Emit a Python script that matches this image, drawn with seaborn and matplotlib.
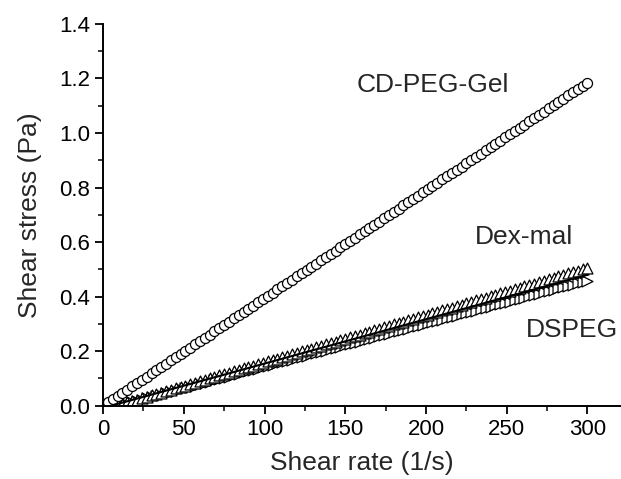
import matplotlib
matplotlib.use('Agg')
import matplotlib.pyplot as plt
from matplotlib.ticker import MultipleLocator, FormatStrFormatter
import pandas as pd
import seaborn as sns

# shear rate grid (1/s)
shear_rate = [
    3, 6, 9, 12, 15, 18, 21, 24, 27, 30,
    33, 36, 39, 42, 45, 48, 51, 54, 57, 60,
    63, 66, 69, 72, 75, 78, 81, 84, 87, 90,
    93, 96, 99, 102, 105, 108, 111, 114, 117, 120,
    123, 126, 129, 132, 135, 138, 141, 144, 147, 150,
    153, 156, 159, 162, 165, 168, 171, 174, 177, 180,
    183, 186, 189, 192, 195, 198, 201, 204, 207, 210,
    213, 216, 219, 222, 225, 228, 231, 234, 237, 240,
    243, 246, 249, 252, 255, 258, 261, 264, 267, 270,
    273, 276, 279, 282, 285, 288, 291, 294, 297, 300,
]

# shear stress (Pa)
cd_peg_gel = [
    0.012, 0.024, 0.036, 0.047, 0.059, 0.071, 0.083, 0.095, 0.107, 0.119,
    0.130, 0.142, 0.154, 0.166, 0.178, 0.190, 0.201, 0.213, 0.225, 0.237,
    0.249, 0.261, 0.273, 0.284, 0.296, 0.308, 0.320, 0.332, 0.344, 0.356,
    0.367, 0.379, 0.391, 0.403, 0.415, 0.427, 0.438, 0.450, 0.462, 0.474,
    0.486, 0.498, 0.510, 0.521, 0.533, 0.545, 0.557, 0.569, 0.581, 0.593,
    0.604, 0.616, 0.628, 0.640, 0.652, 0.664, 0.675, 0.687, 0.699, 0.711,
    0.723, 0.735, 0.747, 0.758, 0.770, 0.782, 0.794, 0.806, 0.818, 0.830,
    0.841, 0.853, 0.865, 0.877, 0.889, 0.901, 0.912, 0.924, 0.936, 0.948,
    0.960, 0.972, 0.984, 0.995, 1.007, 1.019, 1.031, 1.043, 1.055, 1.067,
    1.078, 1.090, 1.102, 1.114, 1.126, 1.138, 1.149, 1.161, 1.173, 1.185,
]

dex_mal = [
    0.000, 0.000, 0.002, 0.007, 0.012, 0.017, 0.022, 0.028, 0.033, 0.038,
    0.043, 0.048, 0.054, 0.059, 0.064, 0.069, 0.074, 0.080, 0.085, 0.090,
    0.095, 0.100, 0.106, 0.111, 0.116, 0.121, 0.126, 0.132, 0.137, 0.142,
    0.147, 0.152, 0.157, 0.163, 0.168, 0.173, 0.178, 0.183, 0.189, 0.194,
    0.199, 0.204, 0.209, 0.215, 0.220, 0.225, 0.230, 0.235, 0.241, 0.246,
    0.251, 0.256, 0.261, 0.266, 0.272, 0.277, 0.282, 0.287, 0.292, 0.298,
    0.303, 0.308, 0.313, 0.318, 0.324, 0.329, 0.334, 0.339, 0.344, 0.350,
    0.355, 0.360, 0.365, 0.370, 0.376, 0.381, 0.386, 0.391, 0.396, 0.401,
    0.407, 0.412, 0.417, 0.422, 0.427, 0.433, 0.438, 0.443, 0.448, 0.453,
    0.459, 0.464, 0.469, 0.474, 0.479, 0.485, 0.490, 0.495, 0.500, 0.505,
]

dspeg = [
    0.000, 0.000, 0.000, 0.003, 0.008, 0.013, 0.017, 0.022, 0.027, 0.032,
    0.036, 0.041, 0.046, 0.051, 0.055, 0.060, 0.065, 0.070, 0.074, 0.079,
    0.084, 0.088, 0.093, 0.098, 0.103, 0.107, 0.112, 0.117, 0.122, 0.126,
    0.131, 0.136, 0.141, 0.145, 0.150, 0.155, 0.160, 0.164, 0.169, 0.174,
    0.179, 0.183, 0.188, 0.193, 0.197, 0.202, 0.207, 0.212, 0.216, 0.221,
    0.226, 0.231, 0.235, 0.240, 0.245, 0.250, 0.254, 0.259, 0.264, 0.269,
    0.273, 0.278, 0.283, 0.288, 0.292, 0.297, 0.302, 0.307, 0.311, 0.316,
    0.321, 0.325, 0.330, 0.335, 0.340, 0.344, 0.349, 0.354, 0.359, 0.363,
    0.368, 0.373, 0.377, 0.382, 0.387, 0.392, 0.396, 0.401, 0.406, 0.411,
    0.416, 0.420, 0.425, 0.430, 0.434, 0.439, 0.444, 0.449, 0.453, 0.458,
]

# thin black line running between the two lower sets
fit_x = [5, 300]
fit_y = [0.0, 0.48]

sns.set_style('ticks')
plt.rcParams['font.family'] = ['Liberation Sans', 'DejaVu Sans']

fig = plt.figure(figsize=(6.21, 4.79), dpi=100)
ax = fig.add_axes([0.166, 0.153, 0.832, 0.797])

df = pd.DataFrame({'rate': shear_rate, 'cd': cd_peg_gel,
                   'dex': dex_mal, 'ds': dspeg})

sns.scatterplot(data=df, x='rate', y='ds', marker='>', s=62,
                facecolor='white', edgecolor='black', linewidth=0.9, ax=ax)
sns.lineplot(x=fit_x, y=fit_y, color='black', linewidth=1.5, ax=ax)
sns.scatterplot(data=df, x='rate', y='dex', marker='^', s=62,
                facecolor='white', edgecolor='black', linewidth=0.9, ax=ax)
sns.scatterplot(data=df, x='rate', y='cd', marker='o', s=52,
                facecolor='white', edgecolor='black', linewidth=0.9, ax=ax)

ax.set_xlim(0, 320)
ax.set_ylim(0, 1.4)
ax.xaxis.set_major_locator(MultipleLocator(50))
ax.xaxis.set_minor_locator(MultipleLocator(25))
ax.yaxis.set_major_locator(MultipleLocator(0.2))
ax.yaxis.set_minor_locator(MultipleLocator(0.1))
ax.set_xticks([0, 50, 100, 150, 200, 250, 300])
ax.yaxis.set_major_formatter(FormatStrFormatter('%.1f'))

sns.despine(ax=ax)
for side in ['left', 'bottom']:
    ax.spines[side].set_linewidth(1.4)
    ax.spines[side].set_color('black')
ax.tick_params(which='major', direction='out', length=6, width=1.3,
               labelsize=16, colors='black')
ax.tick_params(which='minor', direction='out', length=3.5, width=1.3)

ax.set_xlabel('Shear rate (1/s)', fontsize=19, labelpad=8)
ax.set_ylabel('Shear stress (Pa)', fontsize=19, labelpad=12)

ax.text(157, 1.175, 'CD-PEG-Gel', fontsize=19, va='center', ha='left')
ax.text(230, 0.62, 'Dex-mal', fontsize=19, va='center', ha='left')
ax.text(262, 0.277, 'DSPEG', fontsize=19, va='center', ha='left')

fig.savefig('out.png', dpi=100)
